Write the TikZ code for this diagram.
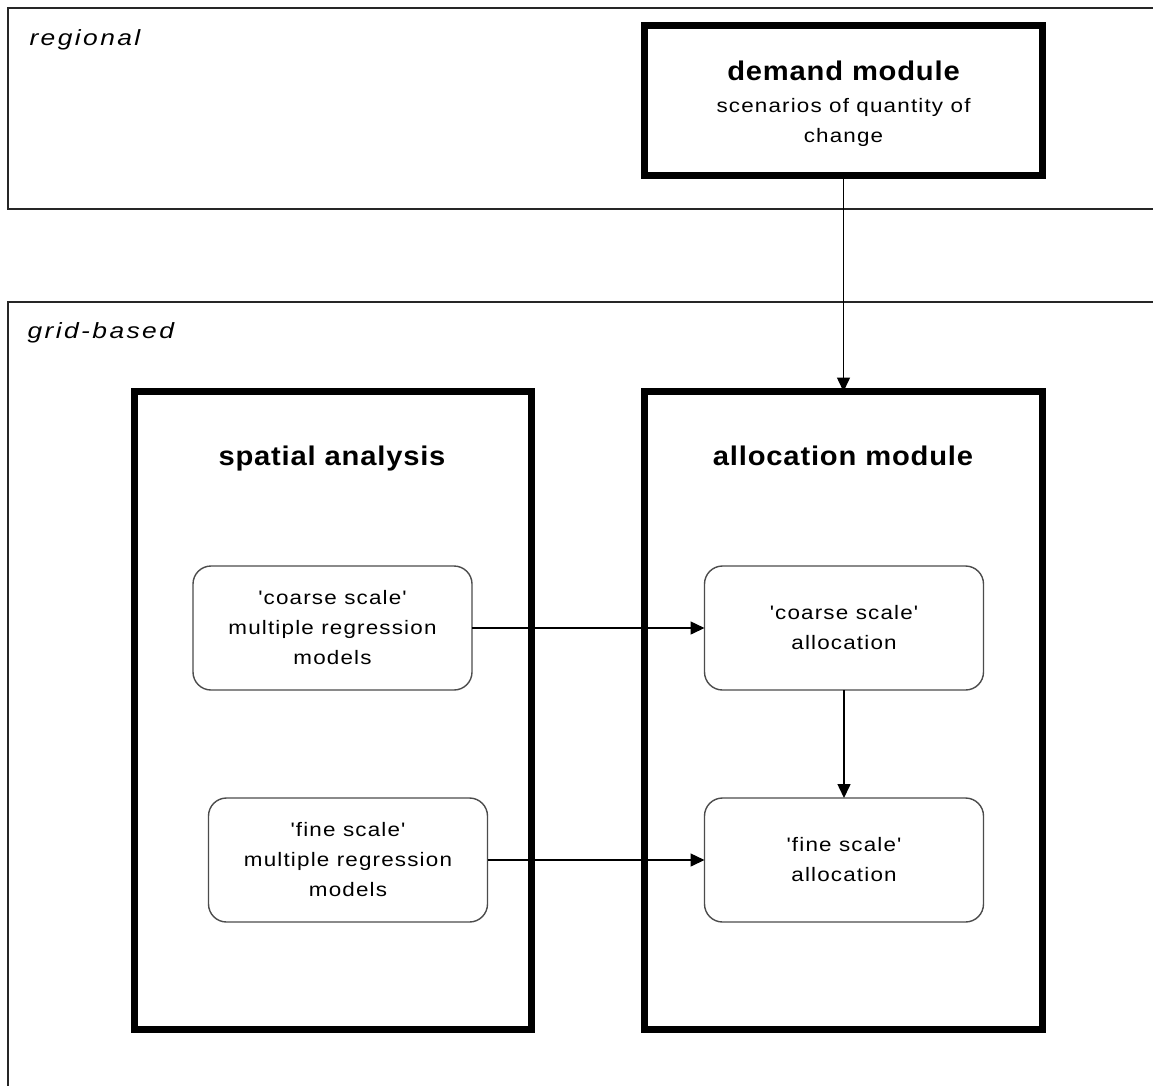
\documentclass[tikz,border=0pt]{standalone}
\usepackage{fontspec}
\setmainfont{Liberation Sans}
\newfontfamily\regfont[FakeStretch=1.15,LetterSpace=6,Ligatures=TeXOff]{Liberation Sans}
\newfontfamily\titlefont[FakeStretch=1.08,LetterSpace=3]{Liberation Sans}
\newfontfamily\zonefont[FakeStretch=1.2,LetterSpace=11]{Liberation Sans}
\usetikzlibrary{arrows.meta}
\tikzset{
  frame/.style={draw=black!85, line width=1.4pt},
  module/.style={draw=black, line width=7pt, minimum width=#1, outer sep=0pt, inner sep=0pt},
  sub/.style={draw=black!70, line width=1.4pt, rounded corners=18pt, minimum width=279pt, minimum height=124pt, align=center, outer sep=0pt, font=\regfont\fontsize{19.5}{30}\selectfont},
  title/.style={font=\titlefont\bfseries\fontsize{27}{32}\selectfont, anchor=base},
  zone/.style={font=\zonefont\itshape\fontsize{22}{26}\selectfont, anchor=base west},
  link/.style={line width=1.5pt, -{Triangle[length=14pt,width=13pt]}},
}
\begin{document}
\begin{tikzpicture}[x=1pt,y=-1pt]
\useasboundingbox (0,0) rectangle (1153,1085);
\fill[white] (0,0) rectangle (1153,1085);
% zones
\draw[frame] (8,8) rectangle (1170,209);
\draw[frame] (8,302) rectangle (1170,1100);
\node[zone] (regional) at (26,45) {regional};
\node[zone] (grid) at (24,338) {grid-based};
% demand module
\node[module=398pt, minimum height=150pt] (demand) at (843.5,100.5) {};
\node[title] (demandtitle) at (843.5,80) {demand module};
\node[align=center, font=\regfont\fontsize{19.5}{30}\selectfont] (demandtext) at (843.5,122) {scenarios of quantity of\\change};
% spatial analysis
\node[module=397pt, minimum height=638pt] (spatial) at (333,710.5) {};
\node[title] (spatialtitle) at (332,465) {spatial analysis};
% allocation module
\node[module=398pt, minimum height=638pt] (alloc) at (843.5,710.5) {};
\node[title] (alloctitle) at (843,465) {allocation module};
% sub boxes
\node[sub] (scoarse) at (332.5,628) {'coarse scale'\\multiple regression\\models};
\node[sub] (sfine) at (348,860) {'fine scale'\\multiple regression\\models};
\node[sub] (acoarse) at (844,628) {'coarse scale'\\allocation};
\node[sub] (afine) at (844,860) {'fine scale'\\allocation};
% connectors
\draw[link] (demand.south) -- (alloc.north);
\draw[link] (scoarse.east) -- (acoarse.west);
\draw[link] (sfine.east) -- (afine.west);
\draw[link] (acoarse.south) -- (afine.north);
\end{tikzpicture}
\end{document}
